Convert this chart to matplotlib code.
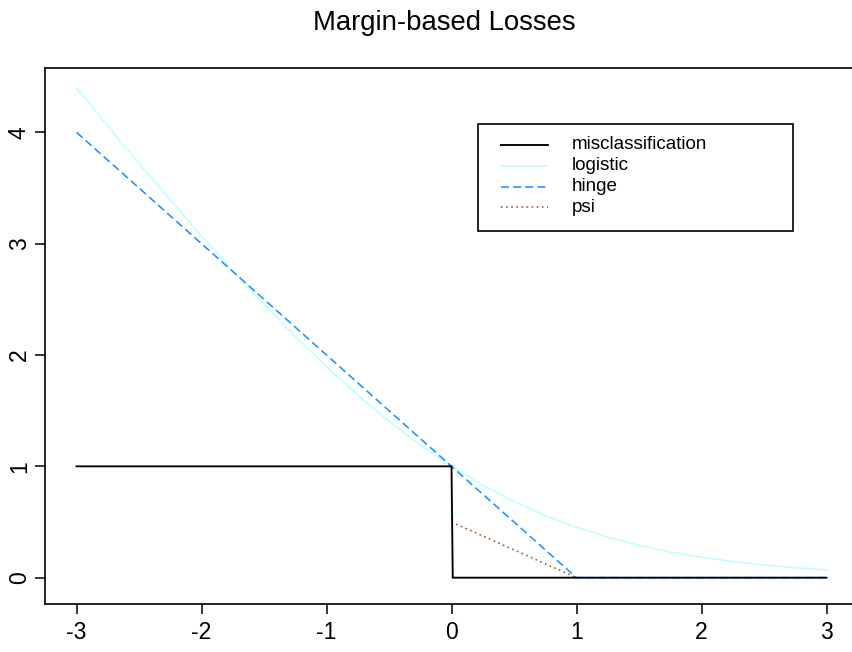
import matplotlib
matplotlib.use("Agg")
import matplotlib.pyplot as plt
from matplotlib.lines import Line2D
from matplotlib.patches import Rectangle

plt.rcParams['font.family'] = ['Liberation Sans', 'DejaVu Sans']

# ---- data ----
title = "Margin-based Losses"
series_names = ["misclassification", "logistic", "hinge", "psi"]

misclass_x = [-3.0, 0.0, 0.01, 3.0]
misclass_y = [1.0, 1.0, 0.0, 0.0]

logistic_x = [-3.0, -2.75, -2.5, -2.25, -2.0, -1.75, -1.5, -1.25, -1.0, -0.75, -0.5, -0.25,
              0.0, 0.25, 0.5, 0.75, 1.0, 1.25, 1.5, 1.75, 2.0, 2.25, 2.5, 2.75, 3.0]
logistic_y = [4.398, 4.057, 3.721, 3.391, 3.069, 2.756, 2.455, 2.167, 1.895, 1.640, 1.405, 1.192,
              1.000, 0.831, 0.684, 0.558, 0.452, 0.363, 0.291, 0.231, 0.183, 0.145, 0.114, 0.089, 0.070]

hinge_x = [-3.0, 1.0, 3.0]
hinge_y = [4.0, 0.0, 0.0]

psi_x = [0.0, 1.0]
psi_y = [0.5, 0.0]

xticks = [-3, -2, -1, 0, 1, 2, 3]
yticks = [0, 1, 2, 3, 4]

colors = ["black", "#BFFFFF", "#1E90FF", "#A0522D"]

# ---- figure ----
W, H = 853, 652
fig = plt.figure(figsize=(W / 100, H / 100), dpi=100)

def fx(px):
    return px / W

def fy(py):
    return 1 - py / H

ax_left, ax_top, ax_right, ax_bottom = 45.3, 68.3, 857.7, 603.7
ax = fig.add_axes([fx(ax_left), fy(ax_bottom), fx(ax_right - ax_left), (ax_bottom - ax_top) / H])

lw = 1.15
ax.plot(logistic_x, logistic_y, color=colors[1], lw=lw, zorder=2)
ax.plot(hinge_x, hinge_y, color=colors[2], lw=lw, dashes=(5, 2.6), zorder=3)
ax.plot(psi_x, psi_y, color=colors[3], lw=lw, dashes=(1, 2.2), zorder=3)
ax.plot(misclass_x, misclass_y, color=colors[0], lw=1.35, solid_joinstyle='miter', zorder=4)

ax.set_xlim(-3.2496, 3.2496)
ax.set_ylim(-0.2337, 4.5752)
ax.set_xticks(xticks)
ax.set_yticks(yticks)
ax.set_xticklabels([str(t) for t in xticks])
ax.set_yticklabels([str(t) for t in yticks], rotation=90, va='center')
ax.tick_params(axis='both', length=7.3, width=1.1, labelsize=16.5, color='black')
ax.tick_params(axis='x', pad=5.5)
ax.tick_params(axis='y', pad=3.0)
for s in ax.spines.values():
    s.set_linewidth(1.2)

fig.text(fx(444), fy(30), title, ha='center', va='baseline', fontsize=19.8)

# ---- legend (R-style box) ----
lx0, ly0, lx1, ly1 = 478.3, 124.0, 792.7, 231.0
fig.patches.append(Rectangle((fx(lx0), fy(ly1)), fx(lx1 - lx0), (ly1 - ly0) / H,
                             transform=fig.transFigure, fill=False, edgecolor='black', lw=1.2))
row_y = [145.0, 165.8, 186.5, 207.3]
styles = [dict(lw=1.35), dict(lw=lw), dict(lw=lw, dashes=(5, 2.6)), dict(lw=lw, dashes=(1, 2.2))]
for name, c, yy, st in zip(series_names, colors, row_y, styles):
    fig.lines.append(Line2D([fx(501), fx(547.7)], [fy(yy), fy(yy)], transform=fig.transFigure,
                            color=c, **st))
    fig.text(fx(571.7), fy(yy), name, ha='left', va='center', fontsize=13.6)

fig.savefig("out.png", dpi=100)
